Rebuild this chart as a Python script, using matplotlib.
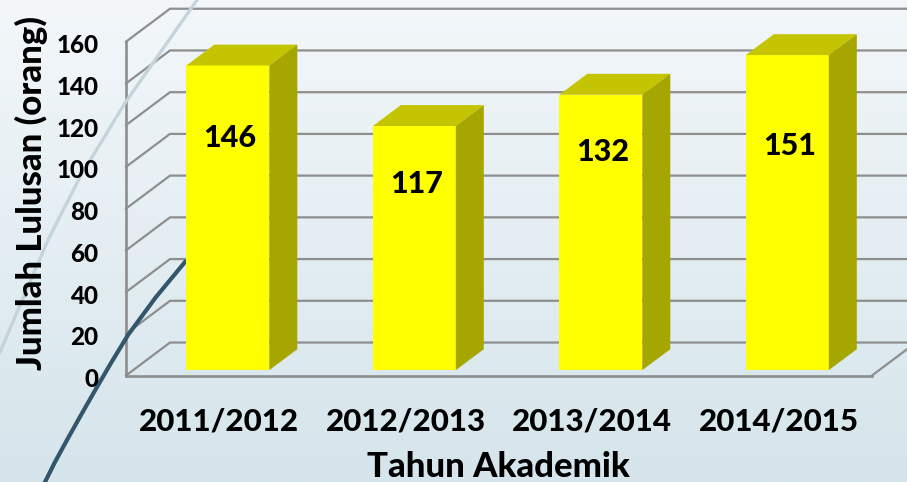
import matplotlib
matplotlib.use("Agg")
import matplotlib.pyplot as plt
from matplotlib.transforms import ScaledTranslation
import numpy as np

years = ["2011/2012", "2012/2013", "2013/2014", "2014/2015"]
lulusan = [146, 117, 132, 151]
label_heights = [114, 92, 107, 110]
y_ticks = [0, 20, 40, 60, 80, 100, 120, 140, 160]

# decorative swooshes of the slide background, in picture pixels
light_x = [197, 125, 80, 48, 0]
light_y = [0, 103, 177, 240, 352]
dark_x = [185, 156, 128, 111, 97, 81, 67, 55, 45]
dark_y = [262, 297, 335, 363, 387, 415, 440, 462, 482]

W, H = 907, 482
plt.rcParams["font.family"] = ["Lato", "DejaVu Sans"]

fig = plt.figure(figsize=(W / 100, H / 100), dpi=100)

bg = fig.add_axes([0, 0, 1, 1], zorder=0)
gradient = np.linspace(0, 1, 256).reshape(-1, 1)
top_col = np.array([0xf3, 0xf7, 0xfa]) / 255
bot_col = np.array([0xd5, 0xe5, 0xeb]) / 255
bg.imshow(top_col + gradient[..., None] * (bot_col - top_col), aspect="auto", extent=[0, W, H, 0])
bg.set_xlim(0, W)
bg.set_ylim(H, 0)
bg.axis("off")

ax = fig.add_axes([126 / W, (H - 375.5) / H, 746 / W, 333.8 / H], zorder=1)
ax.patch.set_visible(False)
ax.set_xlim(-0.5, 3.5)
ax.set_ylim(0, 160)
ax.set_axisbelow(False)

# pseudo 3d depth, in axis units
wall_dx, wall_dy = 0.236, 15.8
bar_off_x, bar_off_y = 0.046, 2.6
bar_dx, bar_dy = 0.15, 10.0
bar_w = 0.445

grid_col = "#8e8e8e"
for v in y_ticks:
    ax.plot([-0.5, -0.5 + wall_dx, 3.5 + wall_dx], [v, v + wall_dy, v + wall_dy],
            color=grid_col, lw=1.6, clip_on=False, zorder=1, solid_joinstyle="miter")
ax.plot([3.5, 3.5 + wall_dx], [0, wall_dy], color=grid_col, lw=1.6, clip_on=False, zorder=1)

for spine in ["top", "right"]:
    ax.spines[spine].set_visible(False)
for spine in ["left", "bottom"]:
    ax.spines[spine].set_color(grid_col)
    ax.spines[spine].set_linewidth(1.9)
    ax.spines[spine].set_zorder(1)

ax.plot(light_x, light_y, color="#c5d3da", lw=2.4, transform=bg.transData, clip_on=False, zorder=2)
ax.plot(dark_x, dark_y, color="#33566d", lw=3.0, transform=bg.transData, clip_on=False, zorder=2,
        solid_joinstyle="round")

for i, val in enumerate(lulusan):
    x0 = i - bar_w / 2 + bar_off_x
    x1 = x0 + bar_w
    y0 = bar_off_y
    y1 = val + bar_off_y
    ax.bar(x0, val, width=bar_w, bottom=y0, align="edge", color="#ffff00", zorder=3, clip_on=False)
    ax.fill([x0, x1, x1 + bar_dx, x0 + bar_dx], [y1, y1, y1 + bar_dy, y1 + bar_dy],
            color="#c4c400", lw=0, zorder=3, clip_on=False)
    ax.fill([x1, x1 + bar_dx, x1 + bar_dx, x1], [y0, y0 + bar_dy, y1 + bar_dy, y1],
            color="#a6a600", lw=0, zorder=3, clip_on=False)
    ax.text(i + bar_off_x + 0.01, label_heights[i], str(val), ha="center", va="center",
            fontsize=22, fontweight="black", color="black", zorder=4)

ax.set_xticks(range(len(years)))
ax.set_xticklabels(years, fontsize=22.5, fontweight="black")
ax.set_yticks(y_ticks)
ax.set_yticklabels([str(v) for v in y_ticks], fontsize=17.5, fontweight="black")
ax.tick_params(axis="x", length=0, pad=23)
ax.tick_params(axis="y", length=0, pad=20)

# tick labels sit slightly under their gridline in the original
nudge = ScaledTranslation(0, -2 / 100, fig.dpi_scale_trans)
for lab in ax.get_yticklabels():
    lab.set_transform(lab.get_transform() + nudge)

fig.text(498 / W, 1 - 467 / H, "Tahun Akademik", ha="center", va="center",
         fontsize=25, fontweight="black")
fig.text(31 / W, 1 - 193.5 / H, "Jumlah Lulusan (orang)", ha="center", va="center",
         rotation=90, fontsize=25, fontweight="black")

fig.savefig("out.png", dpi=100)
